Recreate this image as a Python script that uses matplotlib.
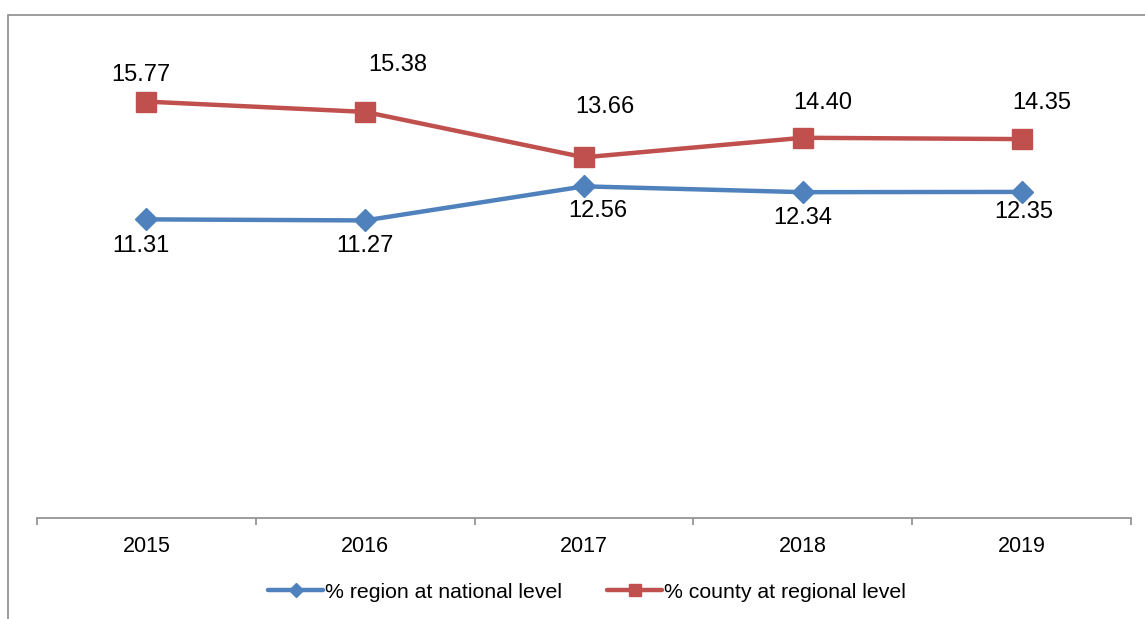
import matplotlib
matplotlib.use("Agg")
import matplotlib.pyplot as plt
from matplotlib.patches import Rectangle

# --- data ---
years = ["2015", "2016", "2017", "2018", "2019"]
region_national = [11.31, 11.27, 12.56, 12.34, 12.35]
county_regional = [15.77, 15.38, 13.66, 14.40, 14.35]
region_label = "% region at national level"
county_label = "% county at regional level"

# label offsets in pixels (hand placed like the original)
region_offsets = [(-6, -27), (0, -26), (14, -25), (0, -26), (2, -20)]
county_offsets = [(-6, 27), (33, 47), (21, 50), (20, 35), (20, 36)]

BLUE = "#4F81BD"
RED = "#C0504D"

plt.rcParams["font.family"] = ["Liberation Sans", "DejaVu Sans"]

W, H = 1145, 619
fig = plt.figure(figsize=(W / 100, H / 100), dpi=100)

# outer chart frame (runs off the right and bottom edges)
fig.patches.append(Rectangle((8 / W, -0.1), 1.2, (H - 15) / H + 0.1,
                             transform=fig.transFigure, fill=False,
                             edgecolor="#8c8c8c", linewidth=1.2))

ax = fig.add_axes([37 / W, (H - 518) / H, 1094 / W, 503 / H])
x = range(len(years))

ax.plot(x, region_national, color=BLUE, lw=3.2, marker="D", ms=11.5,
        label=region_label, solid_capstyle="round")
ax.plot(x, county_regional, color=RED, lw=3.2, marker="s", ms=14.5,
        label=county_label, solid_capstyle="round")

for i, v in enumerate(region_national):
    ax.annotate(f"{v:.2f}", (i, v), xytext=region_offsets[i],
                textcoords="offset pixels", ha="center", va="center",
                fontsize=17)
for i, v in enumerate(county_regional):
    ax.annotate(f"{v:.2f}", (i, v), xytext=county_offsets[i],
                textcoords="offset pixels", ha="center", va="center",
                fontsize=17)

ax.set_xlim(-0.5, len(years) - 0.5)
ax.set_ylim(0, 19.05)
ax.set_yticks([])
for s in ["left", "right", "top"]:
    ax.spines[s].set_visible(False)
ax.spines["bottom"].set_color("#8c8c8c")
ax.spines["bottom"].set_linewidth(1.2)

ax.set_xticks([i - 0.5 for i in range(len(years) + 1)])
ax.set_xticklabels([])
ax.set_xticks(list(x), minor=True)
ax.set_xticklabels(years, minor=True, fontsize=15.5)
ax.tick_params(axis="x", which="major", length=5, color="#8c8c8c", width=1.2)
ax.tick_params(axis="x", which="minor", length=0, pad=13)

ax.legend(loc="center", bbox_to_anchor=(587 / W, (H - 592) / H),
          bbox_transform=fig.transFigure, ncol=2, frameon=False,
          fontsize=15.3, handlelength=2.55, handletextpad=0.1,
          columnspacing=2.15, markerscale=0.6)

fig.savefig("out.png", dpi=100)
